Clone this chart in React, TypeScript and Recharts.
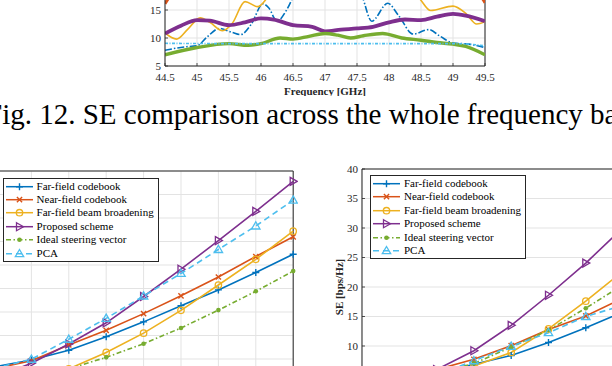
import React from 'react';
import { LineChart, Line, XAxis, YAxis, CartesianGrid, ReferenceLine, Legend, Label } from 'recharts';

const FONT = '"Liberation Serif", "Times New Roman", serif';
const AXIS = '#262626';
const GRID = '#e3e3e3';

// ---- Fig. 12: SE over the band (only the lower part is in view)
const freqTicks = [44.5, 45, 45.5, 46, 46.5, 47, 47.5, 48, 48.5, 49, 49.5];
const topSeTicks = [5, 10, 15, 20, 25];

const farFreqX = [44.5, 44.8, 45.0, 45.15, 45.35, 45.55, 45.68, 45.85, 46.03, 46.12, 46.25, 46.4, 46.55, 46.8, 47.1, 47.4, 47.58, 47.73, 47.98, 48.15, 48.38, 48.62, 48.8, 49.0, 49.25, 49.5];
const farFreqSE = [7.8, 8.4, 8.6, 10.1, 11.7, 11.0, 10.6, 12.5, 16.1, 15.4, 13.0, 15.0, 18.5, 23, 25, 22, 17.5, 13.0, 16.2, 14.0, 10.7, 11.5, 10.3, 9.1, 8.9, 8.3];
const nearFreqX = [44.5, 44.56, 44.7, 45.5, 46.5, 47.5, 48.5, 49.3, 49.44, 49.5];
const nearFreqSE = [16.1, 17.2, 19.5, 22, 23, 23, 22, 19.5, 17.4, 16.3];
const broadFreqX = [44.5, 44.68, 44.85, 45.05, 45.2, 45.4, 45.55, 45.75, 45.95, 46.1, 46.3, 46.8, 47.3, 47.9, 48.3, 48.48, 48.65, 49.0, 49.2, 49.37, 49.5];
const broadFreqSE = [10.9, 9.8, 11.5, 13.6, 12.8, 11.3, 12.6, 16.5, 15.6, 17.2, 20, 22, 22, 21, 19, 17.0, 14.9, 15.7, 14.4, 12.5, 12.9];
const propFreqX = [44.5, 44.75, 45.0, 45.2, 45.5, 45.75, 46.0, 46.2, 46.5, 46.8, 47.0, 47.25, 47.5, 47.75, 48.0, 48.25, 48.5, 48.75, 49.0, 49.2, 49.5];
const propFreqSE = [10.8, 12.2, 13.2, 13.1, 12.3, 12.8, 13.5, 13.3, 12.3, 12.0, 11.2, 11.5, 11.7, 12.0, 12.8, 13.3, 13.2, 13.8, 14.3, 14.0, 13.0];
const idealFreqX = [44.5, 45.0, 45.5, 45.8, 46.0, 46.3, 46.5, 46.75, 47.0, 47.2, 47.4, 47.6, 47.9, 48.2, 48.5, 48.75, 49.0, 49.2, 49.5];
const idealFreqSE = [7.0, 8.3, 9.0, 8.7, 9.0, 10.0, 9.8, 10.3, 10.8, 10.5, 10.0, 10.4, 10.8, 10.0, 9.6, 9.2, 8.9, 8.5, 7.0];
const pcaFreqX = [44.5, 45.5, 46.5, 47.5, 48.5, 49.0, 49.25, 49.5];
const pcaFreqSE = [9.05, 9.0, 9.0, 9.0, 9.0, 9.0, 8.9, 8.6];

// ---- bottom figures (x axis and most tick labels are cropped away)
const pointIdx = [0, 1, 2, 3, 4, 5, 6, 7, 8];
const leftSeTicks = [0, 5, 10, 15, 20, 25, 30, 35, 40, 45, 50];
const rightSeTicks = [0, 5, 10, 15, 20, 25, 30, 35, 40];

const leftFar = [8.3, 9.8, 11.85, 14.75, 17.9, 21.35, 24.7, 28.4, 32.3];
const leftNear = [7.9, 9.65, 13.0, 16.1, 19.65, 23.45, 27.45, 31.8, 36.0];
const leftBroad = [5.0, 6.2, 7.9, 11.4, 15.5, 20.35, 25.75, 31.2, 37.2];
const leftProp = [6.0, 9.1, 13.2, 17.7, 23.3, 29.1, 35.2, 41.4, 47.8];
const leftIdeal = [4.8, 6.0, 7.9, 10.35, 13.25, 16.6, 20.4, 24.4, 28.7];
const leftPca = [8.0, 9.95, 14.2, 18.65, 23.4, 28.2, 33.3, 38.3, 43.8];

const rightFar = [3.0, 4.2, 5.3, 6.9, 8.4, 10.6, 13.1, 15.8, 19.0];
const rightNear = [3.6, 4.8, 6.0, 7.75, 10.05, 12.8, 15.1, 18.1, 21.5];
const rightBroad = [2.5, 3.6, 5.0, 6.6, 8.9, 12.9, 17.6, 22.7, 28.5];
const rightProp = [2.8, 4.2, 6.0, 9.2, 13.5, 18.6, 24.05, 30.1, 36.5];
const rightIdeal = [2.9, 4.1, 5.4, 7.05, 9.8, 12.7, 16.4, 20.4, 24.5];
const rightPca = [3.3, 4.3, 5.1, 7.5, 9.95, 12.25, 15.0, 16.9, 19.5];

const schemes = [
  { key: 'far', name: 'Far-field codebook', color: '#0072BD', dash: undefined, marker: 'plus' },
  { key: 'near', name: 'Near-field codebook', color: '#D95319', dash: undefined, marker: 'cross' },
  { key: 'broad', name: 'Far-field beam broadening', color: '#EDB120', dash: undefined, marker: 'circle' },
  { key: 'prop', name: 'Proposed scheme', color: '#7E2F8E', dash: undefined, marker: 'triRight' },
  { key: 'ideal', name: 'Ideal steering vector', color: '#77AC30', dash: '5 2.5 1.5 2.5', marker: 'dot' },
  { key: 'pca', name: 'PCA', color: '#4DBEEE', dash: '6 4', marker: 'triUp' },
];

const toRows = (cols: Record<string, number[]>) =>
  pointIdx.map((i, n) => {
    const row: Record<string, number> = { i };
    Object.keys(cols).forEach(k => { row[k] = cols[k][n]; });
    return row;
  });

const leftRows = toRows({ far: leftFar, near: leftNear, broad: leftBroad, prop: leftProp, ideal: leftIdeal, pca: leftPca });
const rightRows = toRows({ far: rightFar, near: rightNear, broad: rightBroad, prop: rightProp, ideal: rightIdeal, pca: rightPca });

const pairs = (xs: number[], ys: number[]) => xs.map((f, n) => ({ f, se: ys[n] }));

const topLines = [
  { key: 'far', data: pairs(farFreqX, farFreqSE), color: '#0072BD', width: 1.6, dash: '7 2 1.5 2' },
  { key: 'near', data: pairs(nearFreqX, nearFreqSE), color: '#D95319', width: 3, dash: undefined },
  { key: 'broad', data: pairs(broadFreqX, broadFreqSE), color: '#EDB120', width: 1.6, dash: undefined },
  { key: 'prop', data: pairs(propFreqX, propFreqSE), color: '#7E2F8E', width: 3.8, dash: undefined },
  { key: 'ideal', data: pairs(idealFreqX, idealFreqSE), color: '#77AC30', width: 3.4, dash: undefined },
  { key: 'pca', data: pairs(pcaFreqX, pcaFreqSE), color: '#4DBEEE', width: 1.6, dash: '3 1.5 1 1.5' },
];

const Marker = ({ kind, cx, cy, color }: { kind: string; cx: number; cy: number; color: string }) => {
  if (cx == null || cy == null) return null;
  switch (kind) {
    case 'plus':
      return <path d={`M${cx - 3.5},${cy}H${cx + 3.5}M${cx},${cy - 3.5}V${cy + 3.5}`} stroke={color} strokeWidth={1.4} fill="none" />;
    case 'cross':
      return <path d={`M${cx - 2.6},${cy - 2.6}L${cx + 2.6},${cy + 2.6}M${cx - 2.6},${cy + 2.6}L${cx + 2.6},${cy - 2.6}`} stroke={color} strokeWidth={1.4} fill="none" />;
    case 'circle':
      return <circle cx={cx} cy={cy} r={3.2} stroke={color} strokeWidth={1.3} fill="none" />;
    case 'triRight':
      return <path d={`M${cx - 3},${cy - 4}L${cx + 4},${cy}L${cx - 3},${cy + 4}Z`} stroke={color} strokeWidth={1.3} fill="none" />;
    case 'dot':
      return <circle cx={cx} cy={cy} r={2.3} fill={color} stroke="none" />;
    default:
      return <path d={`M${cx},${cy - 4.2}L${cx + 4.2},${cy + 3}L${cx - 4.2},${cy + 3}Z`} stroke={color} strokeWidth={1.3} fill="none" />;
  }
};

const SchemeLegend = () => (
  <div style={{
    border: `1px solid ${AXIS}`,
    background: '#fff',
    padding: '1px 4px 1px 0',
    fontFamily: FONT,
    fontSize: 11,
    color: '#000',
    lineHeight: '13.4px'
  }}>
    {schemes.map(s => (
      <div key={s.key} style={{ display: 'flex', alignItems: 'center', height: 13.4, whiteSpace: 'nowrap' }}>
        <svg width={31} height={13.4} style={{ display: 'block' }}>
          <line x1={2} x2={29} y1={6.7} y2={6.7} stroke={s.color} strokeWidth={1.5} strokeDasharray={s.dash} />
          <Marker kind={s.marker} cx={15.5} cy={6.7} color={s.color} />
        </svg>
        <span style={{ marginLeft: 2, fontFamily: FONT }}>{s.name}</span>
      </div>
    ))}
  </div>
);

const VerticalLabel = (props: any) => {
  const { viewBox, value, shiftX } = props;
  const x = viewBox.x + shiftX;
  const y = viewBox.y + viewBox.height / 2;
  return (
    <text x={x} y={y} transform={`rotate(-90 ${x} ${y})`} textAnchor="middle" dominantBaseline="central"
      style={{ fontFamily: FONT }} fontSize={11} fontWeight="bold" fill={AXIS}>{value}</text>
  );
};

// MATLAB style: ticks point into the plot box
const BottomTick = (props: any) => {
  const { x, y, payload } = props;
  const axisY = y - 7;
  return (
    <g>
      <line x1={x} x2={x} y1={axisY} y2={axisY - 3} stroke={AXIS} strokeWidth={0.8} />
      <text x={x} y={y} dy="0.71em" textAnchor="middle" fill={AXIS} fontSize={11} style={{ fontFamily: FONT }}>{payload.value}</text>
    </g>
  );
};

const LeftTick = (props: any) => {
  const { x, y, payload } = props;
  const axisX = x + 4;
  return (
    <g>
      <line x1={axisX} x2={axisX + 3} y1={y} y2={y} stroke={AXIS} strokeWidth={0.8} />
      <text x={x} y={y} dy="0.355em" textAnchor="end" fill={AXIS} fontSize={11} style={{ fontFamily: FONT }}>{payload.value}</text>
    </g>
  );
};

const schemeLines = () =>
  schemes.map(s => (
    <Line
      key={s.key}
      type="linear"
      dataKey={s.key}
      name={s.name}
      stroke={s.color}
      strokeWidth={1.6}
      strokeDasharray={s.dash}
      dot={(p: any) => <Marker key={`${s.key}-${p.index}`} kind={s.marker} cx={p.cx} cy={p.cy} color={s.color} />}
      activeDot={false}
      isAnimationActive={false}
    />
  ));

const App = () => (
  <div style={{ position: 'absolute', left: 0, top: 0, width: 612, height: 366, overflow: 'hidden', background: '#fff', fontFamily: FONT }}>
    {/* Fig. 12 */}
    <div style={{ position: 'absolute', left: 0, top: -51 }}>
      <LineChart width={612} height={147} margin={{ top: 5, right: 127, left: 135, bottom: 0 }} style={{ fontFamily: FONT }}>
        <CartesianGrid stroke={GRID} />
        <XAxis type="number" dataKey="f" domain={[44.5, 49.5]} ticks={freqTicks} interval={0} allowDataOverflow
          height={30} tick={<BottomTick />} tickLine={false} tickSize={3} tickMargin={4} axisLine={{ stroke: AXIS }}>
          <Label value="Frequency [GHz]" position="insideBottom" offset={1.5}
            fontFamily={FONT} fontSize={11} fontWeight="bold" fill={AXIS} />
        </XAxis>
        <YAxis type="number" domain={[5, 25]} ticks={topSeTicks} interval={0} width={30}
          tick={<LeftTick />} tickLine={false} tickSize={2} tickMargin={2} axisLine={{ stroke: AXIS }} />
        <ReferenceLine x={49.5} stroke={AXIS} />
        {topLines.map(l => (
          <Line key={l.key} data={l.data} type="monotone" dataKey="se" stroke={l.color} strokeWidth={l.width}
            strokeDasharray={l.dash} dot={false} activeDot={false} isAnimationActive={false} />
        ))}
      </LineChart>
    </div>

    <div style={{
      position: 'absolute', left: -14, top: 100, fontFamily: FONT, fontSize: 29,
      lineHeight: '29.5px', whiteSpace: 'nowrap', color: '#000'
    }}>
      Fig. 12. SE comparison across the whole frequency band.
    </div>

    {/* left figure */}
    <div style={{ position: 'absolute', left: -11.4, top: 166 }}>
      <LineChart width={309.2} height={245} data={leftRows} margin={{ top: 5, right: 5, left: 5, bottom: 5 }}>
        <CartesianGrid stroke={GRID} />
        <XAxis hide type="number" dataKey="i" domain={[0, 8]} ticks={pointIdx} interval={0} />
        <YAxis hide type="number" domain={[0, 50]} ticks={leftSeTicks} interval={0} />
        <ReferenceLine y={50} stroke={AXIS} />
        <ReferenceLine x={8} stroke={AXIS} />
        {schemeLines()}
        <Legend layout="vertical" align="center" verticalAlign="middle" content={<SchemeLegend />}
          wrapperStyle={{ left: 14, top: 11.7, width: 'auto', height: 'auto' }} />
      </LineChart>
    </div>

    {/* right figure */}
    <div style={{ position: 'absolute', left: 311.7, top: 164 }}>
      <LineChart width={353.4} height={271} data={rightRows} margin={{ top: 5, right: 5, left: 0, bottom: 0 }}>
        <CartesianGrid stroke={GRID} />
        <XAxis type="number" dataKey="i" domain={[0, 8]} ticks={pointIdx} interval={0} height={30}
          tick={false} tickLine={false} axisLine={{ stroke: AXIS }} />
        <YAxis type="number" domain={[0, 40]} ticks={rightSeTicks} interval={0} width={50}
          tick={<LeftTick />} tickLine={false} tickSize={2} tickMargin={2} axisLine={{ stroke: AXIS }}>
          <Label value="SE [bps/Hz]" content={<VerticalLabel shiftX={26.6} />} />
        </YAxis>
        <ReferenceLine y={40} stroke={AXIS} />
        {schemeLines()}
        <Legend layout="vertical" align="center" verticalAlign="middle" content={<SchemeLegend />}
          wrapperStyle={{ left: 58.3, top: 11, width: 'auto', height: 'auto' }} />
      </LineChart>
    </div>
  </div>
);

export default App;
